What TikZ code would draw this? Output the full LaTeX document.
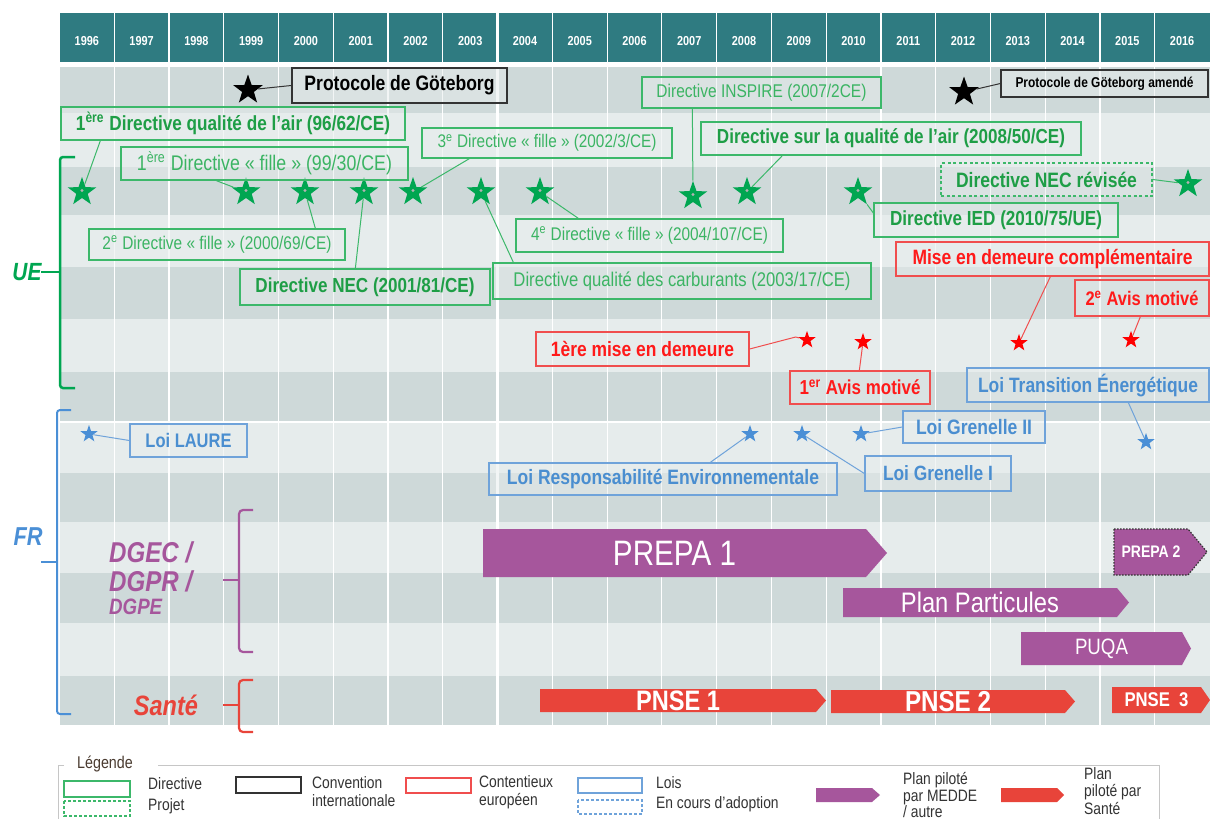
\documentclass[tikz,border=0pt]{standalone}
\usepackage{fontspec}
\setmainfont{Liberation Sans}
\newfontfamily\cf[FakeStretch=0.84]{Liberation Sans}
\usepackage{graphicx}
\usetikzlibrary{shapes.geometric,calc}
\definecolor{hdr}{HTML}{2F7B81}
\definecolor{bd}{HTML}{CED9D9}
\definecolor{bl}{HTML}{E6ECEC}
\definecolor{gbd}{HTML}{3CB86A}
\definecolor{gtn}{HTML}{3BB463}
\definecolor{gtb}{HTML}{1E9E46}
\definecolor{gst}{HTML}{00A651}
\definecolor{rbd}{HTML}{F04E4E}
\definecolor{rtx}{HTML}{FF1A1A}
\definecolor{rst}{HTML}{FF0000}
\definecolor{bbd}{HTML}{6FA3DA}
\definecolor{btx}{HTML}{4A8ED0}
\definecolor{bst}{HTML}{4A8FD6}
\definecolor{kc}{HTML}{333333}
\definecolor{pur}{HTML}{A6569C}
\definecolor{rbar}{HTML}{E8443A}
\definecolor{legc}{HTML}{333333}
\definecolor{legbrown}{HTML}{4A3B30}
\newcommand{\fitw}[2]{\resizebox{#1pt}{!}{#2}}
\newcommand{\labbox}[7]{\node[#2, minimum width={#5-#3}, minimum height={#6-#4}] (#1) at ({(#3+#5)/2},{(#4+#6)/2}) {#7};}
\newcommand{\planbar}[8]{%
  \path[#7] (#2,#5) -- (#3,#5) -- (#4,{(#5+#6)/2}) -- (#3,#6) -- (#2,#6) -- cycle;
  \node[bartext] (#1) at ({(#2+#3)/2},{(#5+#6)/2}) {#8};}
\tikzset{
  lb/.style={inner sep=0, fill=bl, fill opacity=.5, text opacity=1, line width=1.3},
  kbox/.style={lb, draw=kc, text=black, line width=1.6},
  gboxn/.style={lb, draw=gbd, text=gtn},
  gboxb/.style={lb, draw=gbd, text=gtb},
  gboxd/.style={lb, draw=gbd, text=gtb, dash pattern=on 3pt off 2.5pt},
  redbox/.style={lb, draw=rbd, text=rtx},
  bluebox/.style={lb, draw=bbd, text=btx},
  star5/.style={star, star points=5, star point ratio=2.5, inner sep=0, draw=none},
  gstar/.style={star5, fill=gst, minimum size=30,
     path picture={\fill[gray!60] (path picture bounding box.center) circle (1.6);}},
  kstar/.style={star5, fill=black, minimum size=31},
  rstar/.style={star5, fill=rst, minimum size=18},
  bstar/.style={star5, fill=bst, minimum size=18},
  kline/.style={draw=kc, line width=1},
  gline/.style={draw=gbd, line width=1},
  rline/.style={draw=rbd, line width=1},
  bline/.style={draw=bbd, line width=1},
  yr/.style={text=white, font=\cf\bfseries\fontsize{13}{14}\selectfont},
  bartext/.style={text=white, inner sep=0},
  legt/.style={text=legc, anchor=west, align=left, inner sep=0},
}
\begin{document}
\begin{tikzpicture}[x=1pt,y=-1pt, every node/.style={font=\cf}]
\useasboundingbox (0,0) rectangle (1210,819);
\fill[white] (0,0) rectangle (1210,819);
% header
\fill[hdr] (59.5,13) rectangle (1210,62);
% bands
\foreach \a/\b/\c in {67/113/bd,113/167/bl,167/215/bd,215/267/bl,267/319/bd,319/372/bl,372/422/bd,422/473/bl,473/522/bd,522/573/bl,573/623/bd,623/676/bl,676/725/bd}
  \fill[\c] (59.5,\a) rectangle (1210,\b);
\foreach \k in {1,...,20}
  \draw[white, line width=1.2] ({59.5+\k*54.76},13) -- ({59.5+\k*54.76},725);
\foreach \k in {8,15}
  \draw[white, line width=2.4] ({59.5+\k*54.76},13) -- ({59.5+\k*54.76},725);
\draw[white, line width=1.6] (59.5,422) -- (1210,422);
\foreach \yy [count=\i from 0] in {1996,...,2016}
  \node[yr] (y\i) at ({59.5+(\i+0.5)*54.76},41) {\yy};

% brackets and group labels
\draw[gst, line width=2.5, rounded corners=3] (75,157) -- (60,157) -- (60,388) -- (75,388);
\draw[gst, line width=2.5] (41,272) -- (60,272);
\node[text=gst, inner sep=0] (ue) at (27,272) {\fitw{29}{\bfseries\itshape UE}};
\draw[bst, line width=2, rounded corners=3] (71,410) -- (57,410) -- (57,714) -- (71,714);
\draw[bst, line width=2] (41,562) -- (57,562);
\node[text=bst, inner sep=0] (fr) at (28,537) {\fitw{29}{\bfseries\itshape FR}};
\draw[pur, line width=2.2, rounded corners=4] (253,510) -- (239,510) -- (239,652) -- (253,652);
\draw[pur, line width=2.2] (223,580) -- (239,580);
\node[text=pur, inner sep=0, anchor=west] (dgec) at (109,552) {\fitw{83}{\bfseries\itshape DGEC /}};
\node[text=pur, inner sep=0, anchor=west] (dgpr) at (109,581) {\fitw{83}{\bfseries\itshape DGPR /}};
\node[text=pur, inner sep=0, anchor=west] (dgpe) at (109,607) {\fitw{53}{\bfseries\itshape DGPE}};
\draw[rbar, line width=2.2, rounded corners=4] (253,680) -- (239,680) -- (239,732) -- (253,732);
\draw[rbar, line width=2.2] (223,705) -- (239,705);
\node[text=rbar, inner sep=0] (sante) at (166,705) {\fitw{64}{\bfseries\itshape Santé}};

% stars
\node[kstar] (sb1) at (248,90) {};
\node[kstar] (sb2) at (964,92) {};
\node[gstar] (sg1) at (82,192) {};
\node[gstar] (sg2) at (246,192) {};
\node[gstar] (sg3) at (305,192) {};
\node[gstar] (sg4) at (364,192) {};
\node[gstar] (sg5) at (413,192) {};
\node[gstar] (sg6) at (481,192) {};
\node[gstar] (sg7) at (540,192) {};
\node[gstar] (sg8) at (693,196) {};
\node[gstar] (sg9) at (747,192) {};
\node[gstar] (sg10) at (858,192) {};
\node[gstar] (sg11) at (1188,184) {};
\node[rstar] (sr1) at (807,340) {};
\node[rstar] (sr2) at (863,342) {};
\node[rstar] (sr3) at (1019,343) {};
\node[rstar] (sr4) at (1131,340) {};
\node[bstar] (sl1) at (89,434) {};
\node[bstar] (sl2) at (750,434) {};
\node[bstar] (sl3) at (802,434) {};
\node[bstar] (sl4) at (861,434) {};
\node[bstar] (sl5) at (1146,442) {};

% boxes
\labbox{g1}{kbox}{292}{68}{507}{103}{\fitw{190}{\bfseries Protocole de Göteborg}}
\labbox{g2}{kbox,line width=1.2}{1001}{70}{1208}{97}{\fitw{178}{\bfseries Protocole de Göteborg amendé}}
\labbox{ins}{gboxn}{642}{77}{881}{108}{\fitw{210}{Directive INSPIRE (2007/2CE)}}
\labbox{q1}{gboxb}{61}{107}{405}{140}{\fitw{314}{\bfseries 1\textsuperscript{ère} Directive qualité de l’air (96/62/CE)}}
\labbox{f3}{gboxn}{422}{128}{672}{158}{\fitw{219}{3\textsuperscript{e} Directive «~fille~» (2002/3/CE)}}
\labbox{q2}{gboxb}{701}{122}{1081}{155}{\fitw{348}{\bfseries Directive sur la qualité de l’air (2008/50/CE)}}
\labbox{f1}{gboxn}{121}{147}{408}{180}{\fitw{255}{1\textsuperscript{ère} Directive «~fille~» (99/30/CE)}}
\labbox{necr}{gboxd}{941}{163}{1152}{196}{\fitw{181}{\bfseries Directive NEC révisée}}
\labbox{f2}{gboxn}{89}{229}{345}{260}{\fitw{229}{2\textsuperscript{e} Directive «~fille~» (2000/69/CE)}}
\labbox{ied}{gboxb}{874}{203}{1118}{237}{\fitw{212}{\bfseries Directive IED (2010/75/UE)}}
\labbox{f4}{gboxn}{516}{219}{783}{252}{\fitw{237}{4\textsuperscript{e} Directive «~fille~» (2004/107/CE)}}
\labbox{nec}{gboxb}{240}{269}{490}{305}{\fitw{219}{\bfseries Directive NEC (2001/81/CE)}}
\labbox{carb}{gboxn}{493}{263}{871}{299}{\fitw{337}{Directive qualité des carburants (2003/17/CE)}}
\labbox{mdc}{redbox}{896}{242}{1209}{276}{\fitw{280}{\bfseries Mise en demeure complémentaire}}
\labbox{am2}{redbox}{1075}{280}{1209}{316}{\fitw{113}{\bfseries 2\textsuperscript{e} Avis motivé}}
\labbox{md1}{redbox}{536}{332}{749}{366}{\fitw{183}{\bfseries 1ère mise en demeure}}
\labbox{am1}{redbox}{790}{371}{930}{404}{\fitw{121}{\bfseries 1\textsuperscript{er} Avis motivé}}
\labbox{lte}{bluebox}{967}{368}{1209}{402}{\fitw{220}{\bfseries Loi Transition Énergétique}}
\labbox{gr2}{bluebox}{903}{411}{1045}{443}{\fitw{116}{\bfseries Loi Grenelle II}}
\labbox{gr1}{bluebox}{865}{456}{1011}{491}{\fitw{110}{\bfseries Loi Grenelle I}}
\labbox{lre}{bluebox}{489}{463}{837}{495}{\fitw{312}{\bfseries Loi Responsabilité Environnementale}}
\labbox{laure}{bluebox}{130}{424}{247}{457}{\fitw{86}{\bfseries Loi LAURE}}

% connectors
\draw[kline] (sb1) -- (g1.west);
\draw[kline] (sb2) -- (g2.west);
\draw[gline] ([xshift=51pt]ins.south west) -- (sg8);
\draw[gline] ([xshift=40pt]q1.south west) -- (sg1);
\draw[gline] ([xshift=48pt]f3.south west) -- (sg5);
\draw[gline] ([xshift=82pt]q2.south west) -- (sg9);
\draw[gline] ([xshift=96pt]f1.south west) -- (sg2);
\draw[gline] ([xshift=227pt]f2.north west) -- (sg3);
\draw[gline] ([xshift=116pt]nec.north west) -- (sg4);
\draw[gline] ([xshift=63pt]f4.north west) -- (sg7);
\draw[gline] ([xshift=21pt]carb.north west) -- (sg6);
\draw[gline] ([yshift=7pt]ied.west) -- (sg10);
\draw[gline] (necr.east) -- (sg11);
\draw[rline] ([xshift=155pt]mdc.south west) -- (sr3);
\draw[rline] ([xshift=66pt]am2.south west) -- (sr4);
\draw[rline] (md1.east) -- ([xshift=46pt,yshift=12pt]md1.east) -- (sr1);
\draw[rline] ([xshift=70pt]am1.north west) -- (sr2);
\draw[bline] (sl1) -- (laure.west);
\draw[bline] ([xshift=162pt]lte.south west) -- (sl5);
\draw[bline] (gr2.west) -- (sl4);
\draw[bline] (gr1.west) -- (sl3);
\draw[bline] ([xshift=222pt]lre.north west) -- (sl2);

% plan bars
\planbar{prepa1}{483}{866}{887}{529}{577}{fill=pur}{\fitw{123}{PREPA 1}}
\planbar{prepa2}{1114}{1188}{1207}{529}{575}{fill=pur, draw=gray!40!black, line width=1.2, dash pattern=on 1.5pt off 1.5pt}{\fitw{59}{\bfseries PREPA 2}}
\planbar{ppart}{843}{1117}{1129}{588}{617}{fill=pur}{\fitw{158}{Plan Particules}}
\planbar{puqa}{1021}{1182}{1191}{632}{665}{fill=pur}{\fitw{53}{PUQA}}
\planbar{pnse1}{540}{816}{826}{689}{712}{fill=rbar}{\fitw{84}{\bfseries PNSE 1}}
\planbar{pnse2}{831}{1065}{1075}{690}{713}{fill=rbar}{\fitw{86}{\bfseries PNSE 2}}
\planbar{pnse3}{1112}{1201}{1210}{687}{713}{fill=rbar}{\fitw{64}{\bfseries PNSE~~3}}

% legend
\draw[gray!45, line width=1] (64,765) -- (58,765) -- (58,819);
\draw[gray!45, line width=1] (158,765) -- (1159,765) -- (1159,819);
\node[text=legbrown, inner sep=0, anchor=west, font=\cf\fontsize{17}{18}\selectfont] (leg) at (77,764) {Légende};
\draw[gbd, line width=1.6] (64,781) rectangle (130,797);
\draw[gbd, line width=1.2, dash pattern=on 3pt off 2pt] (64,801) rectangle (130,816);
\node[legt, font=\cf\fontsize{16.5}{21}\selectfont] (lg1) at (148,795.5) {Directive\\Projet};
\draw[kc, line width=1.8] (236,777) rectangle (301,793);
\node[legt, font=\cf\fontsize{16.5}{18}\selectfont] (lg2) at (312,792) {Convention\\internationale};
\draw[rbd, line width=1.6] (406,778) rectangle (471,793);
\node[legt, font=\cf\fontsize{16.5}{18}\selectfont] (lg3) at (479,792) {Contentieux\\européen};
\draw[bbd, line width=1.6] (578,778) rectangle (642,793);
\draw[bbd, line width=1.2, dash pattern=on 3pt off 2pt] (578,800) rectangle (642,814);
\node[legt, font=\cf\fontsize{16.5}{20}\selectfont] (lg4) at (656,794) {Lois\\En cours d’adoption};
\path[fill=pur] (816,788) -- (872,788) -- (880,795) -- (872,802) -- (816,802) -- cycle;
\node[legt, font=\cf\fontsize{16.5}{16.5}\selectfont] (lg5) at (903,795) {Plan piloté\\par MEDDE\\/ autre};
\path[fill=rbar] (1001,788) -- (1057,788) -- (1064,795) -- (1057,802) -- (1001,802) -- cycle;
\node[legt, font=\cf\fontsize{16.5}{17.5}\selectfont] (lg6) at (1084,791) {Plan\\piloté par\\Santé};
\end{tikzpicture}
\end{document}
